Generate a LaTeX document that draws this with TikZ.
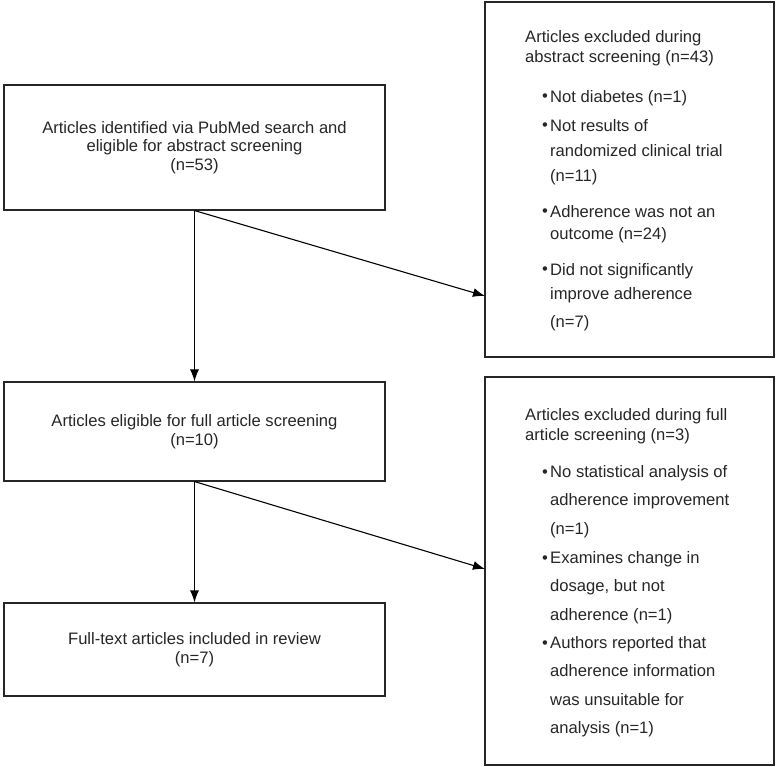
\documentclass[tikz,border=0pt]{standalone}
\usepackage{fontspec}
\setmainfont{Liberation Sans}
\usetikzlibrary{arrows.meta,positioning}
\definecolor{ink}{HTML}{262626}

\begin{document}
\begin{tikzpicture}[x=1pt, y=-1pt,
  box/.style={draw=ink, line width=1.1pt, inner sep=0pt, align=center, text=ink, font={\fontsize{16.6}{18.5}\selectfont}},
  flow/.style={-{Latex[length=12pt,width=9pt]}, line width=1.1pt, black},
  bul/.style={anchor=base west, inner sep=0pt, text=ink, font={\fontsize{16.6}{20}\selectfont}},
  txt/.style={anchor=north west, inner sep=0pt, align=left, text=ink, font={\fontsize{16.6}{20}\selectfont}}
]
\useasboundingbox (0,0) rectangle (777,767);

\node[box, minimum width=381pt, minimum height=125pt] (ident) at (194.5, 147.5) {Articles identified via PubMed search and\\eligible for abstract screening\\(n=53)};
\node[box, minimum width=381pt, minimum height=99pt] (elig) at (194.5, 431.5) {Articles eligible for full article screening\\(n=10)};
\node[box, minimum width=381pt, minimum height=93pt] (incl) at (194.5, 649.5) {Full-text articles included in review\\(n=7)};
\node[box, minimum width=289pt, minimum height=355pt] (exabs) at (629.5, 179.5) {};
\node[box, minimum width=289pt, minimum height=388pt] (exfull) at (629.5, 571) {};

\coordinate (abshit) at (485, 296);
\coordinate (fullhit) at (485, 569);

\draw[flow] (ident.south) -- (elig.north);
\draw[flow] (ident.south) -- (abshit);
\draw[flow] (elig.south) -- (incl.north);
\draw[flow] (elig.south) -- (fullhit);

% abstract screening exclusions
\def\bx{542}
\def\tx{550}
\node[txt] (abstitle) at (525, 30) {Articles excluded during\\abstract screening (n=43)};
\node[bul] at (\bx, 102) {\textbullet};
\node[txt] (a1) at (\tx, 90) {Not diabetes (n=1)};
\node[bul] at (\bx, 131) {\textbullet};
\node[txt, font={\fontsize{16.6}{25}\selectfont}] (a2) at (\tx, 119) {Not results of\\randomized clinical trial\\(n=11)};
\node[bul] at (\bx, 217) {\textbullet};
\node[txt, font={\fontsize{16.6}{22}\selectfont}] (a3) at (\tx, 205) {Adherence was not an\\outcome (n=24)};
\node[bul] at (\bx, 275) {\textbullet};
\node[txt, font={\fontsize{16.6}{24}\selectfont}] (a4) at (\tx, 263) {Did not significantly\\improve adherence\\[4pt](n=7)};

% full article screening exclusions
\node[txt] (fulltitle) at (525, 408) {Articles excluded during full\\article screening (n=3)};
\node[bul] at (\bx, 477) {\textbullet};
\node[txt, font={\fontsize{16.6}{28.5}\selectfont}] (f1) at (\tx, 465) {No statistical analysis of\\adherence improvement\\(n=1)};
\node[bul] at (\bx, 563) {\textbullet};
\node[txt, font={\fontsize{16.6}{28.5}\selectfont}] (f2) at (\tx, 551) {Examines change in\\dosage, but not\\adherence (n=1)};
\node[bul] at (\bx, 648) {\textbullet};
\node[txt, font={\fontsize{16.6}{28.5}\selectfont}] (f3) at (\tx, 636) {Authors reported that\\adherence information\\was unsuitable for\\analysis (n=1)};

\end{tikzpicture}
\end{document}
